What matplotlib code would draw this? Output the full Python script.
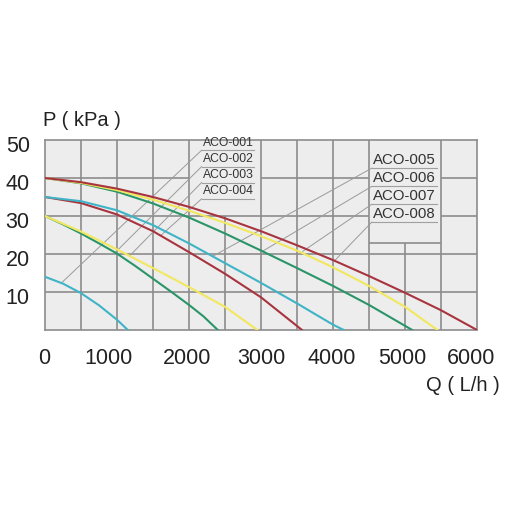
import matplotlib
matplotlib.use("Agg")
import matplotlib.pyplot as plt
from matplotlib.transforms import ScaledTranslation

plt.rcParams['font.family'] = ['Liberation Sans', 'DejaVu Sans']

# pump curves: flow Q (L/h), pressure P (kPa)
q_001 = [0, 250, 500, 750, 1000, 1150]
p_001 = [14.0, 12.2, 9.7, 6.5, 2.7, 0]

q_002 = [0, 250, 500, 750, 1000, 1250, 1500, 1750, 2000, 2200, 2400]
p_002 = [30.0, 27.8, 25.4, 22.8, 20.1, 16.9, 13.5, 10.1, 6.6, 3.6, 0]

q_003 = [0, 500, 1000, 1500, 2000, 2500, 2950]
p_003 = [30.0, 25.9, 21.2, 16.3, 11.3, 6.1, 0]

q_004 = [0, 500, 1000, 1500, 2000, 2500, 3000, 3570]
p_004 = [35.0, 33.4, 30.4, 26.0, 20.5, 14.8, 8.6, 0]

q_005 = [0, 500, 1000, 1500, 2000, 2500, 3000, 3500, 4000, 4150]
p_005 = [35.0, 33.9, 31.5, 27.6, 22.8, 17.6, 12.4, 7.0, 1.4, 0]

q_006 = [0, 500, 1000, 1500, 2000, 2500, 3000, 3500, 4000, 4500, 5100]
p_006 = [40.0, 38.6, 36.4, 33.3, 29.6, 25.4, 20.9, 16.3, 11.6, 6.6, 0]

q_007 = [0, 500, 1000, 1500, 2000, 2500, 3000, 3500, 4000, 4500, 5000, 5450]
p_007 = [40.0, 38.7, 36.8, 34.3, 31.4, 28.2, 24.7, 20.9, 16.5, 11.6, 6.1, 0]

q_008 = [0, 500, 1000, 1500, 2000, 2500, 3000, 3500, 4000, 4500, 5000, 5500, 6000]
p_008 = [40.0, 38.9, 37.2, 35.0, 32.4, 29.4, 26.0, 22.3, 18.4, 14.2, 9.8, 5.2, 0]

models = ["ACO-001", "ACO-002", "ACO-003", "ACO-004",
          "ACO-005", "ACO-006", "ACO-007", "ACO-008"]
curves = [(q_001, p_001), (q_002, p_002), (q_003, p_003), (q_004, p_004),
          (q_005, p_005), (q_006, p_006), (q_007, p_007), (q_008, p_008)]
colors = ["#3fb4c6", "#2a9568", "#f2e85e", "#a8343f"] * 2

# where each leader line touches its curve
leader_q = [240, 970, 1180, 1610, 2340, 3010, 3580, 4020]
leader_p = [12.6, 20.3, 19.6, 24.9, 19.5, 20.6, 20.7, 18.2]

x_ticks = [0, 1000, 2000, 3000, 4000, 5000, 6000]
y_ticks = [10, 20, 30, 40, 50]
# the printed labels sit a little off their grid lines (pixels)
x_label_shift = [-1, -9, -2, 0, -1, -3, -6]

GRID = "#8c8c8c"

fig = plt.figure(figsize=(5.08, 5.08), dpi=100)
ax = fig.add_axes([45 / 508, 178 / 508, 432 / 508, 190 / 508])
ax.set_facecolor("#ededed")
ax.set_xlim(0, 6000)
ax.set_ylim(0, 50)

# grid with the two label boxes cut out
left_box = (2000, 3000, 30, 50)
right_box = (4500, 5500, 22.9, 50)


def cut(v, lo, hi, boxes, vertical):
    segs = [(lo, hi)]
    for x0, x1, y0, y1 in boxes:
        inside = (x0 < v < x1) if vertical else (y0 < v < y1)
        if not inside:
            continue
        a, b = (y0, y1) if vertical else (x0, x1)
        new = []
        for s, e in segs:
            if e <= a or s >= b:
                new.append((s, e))
            else:
                if s < a:
                    new.append((s, a))
                if e > b:
                    new.append((b, e))
        segs = new
    return segs


boxes = [left_box, right_box]
for xv in range(500, 6000, 500):
    for s, e in cut(xv, 0, 50, boxes, True):
        ax.vlines(xv, s, e, color=GRID, lw=1.2, zorder=1)
for yv in range(10, 50, 10):
    for s, e in cut(yv, 0, 6000, boxes, False):
        ax.hlines(yv, s, e, color=GRID, lw=1.2, zorder=1)
ax.hlines(right_box[2], right_box[0], right_box[1], color=GRID, lw=1.2, zorder=1)

for sp in ax.spines.values():
    sp.set_color(GRID)
    sp.set_linewidth(1.2)

for (q, p), c in zip(curves, colors):
    ax.plot(q, p, color=c, lw=1.5, zorder=3, solid_joinstyle="round")

# labels with underline and leader
left_rows = [47.3, 43.0, 38.8, 34.5]
right_rows = [42.6, 37.8, 33.1, 28.4]
for i, name in enumerate(models):
    if i < 4:
        tx, ty, ux1, fs = 2175, left_rows[i], 2900, 8.7
    else:
        tx, ty, ux1, fs = 4540, right_rows[i - 4], 5440, 10.8
    ax.text(tx + 20, ty + 0.4, name, fontsize=fs, color="#333333",
            ha="left", va="bottom", zorder=5)
    ax.plot([tx, ux1], [ty, ty], color="#a0a0a0", lw=0.8, zorder=4)
    ax.plot([tx, leader_q[i]], [ty, leader_p[i]], color="#9a9a9a",
            lw=0.7, zorder=2)

ax.set_xticks(x_ticks)
ax.set_xticklabels([str(v) for v in x_ticks])
ax.set_yticks(y_ticks)
ax.set_yticklabels([str(v) for v in y_ticks])
ax.tick_params(length=0, labelsize=15.5, colors="#222222")
ax.tick_params(axis="y", pad=11)
ax.tick_params(axis="x", pad=13)

for lab, dx in zip(ax.get_xticklabels(), x_label_shift):
    lab.set_transform(lab.get_transform() +
                      ScaledTranslation(dx / 100, 0, fig.dpi_scale_trans))
for lab in ax.get_yticklabels():
    lab.set_transform(lab.get_transform() +
                      ScaledTranslation(0, -4 / 100, fig.dpi_scale_trans))

ax.text(-2 / 432, 1.055, "P ( kPa )", transform=ax.transAxes,
        fontsize=14.5, color="#222222", ha="left", va="bottom")
ax.text(455 / 432, -0.24, "Q ( L/h )", transform=ax.transAxes,
        fontsize=14.5, color="#222222", ha="right", va="top")

fig.savefig("out.png", dpi=100, facecolor="white")
